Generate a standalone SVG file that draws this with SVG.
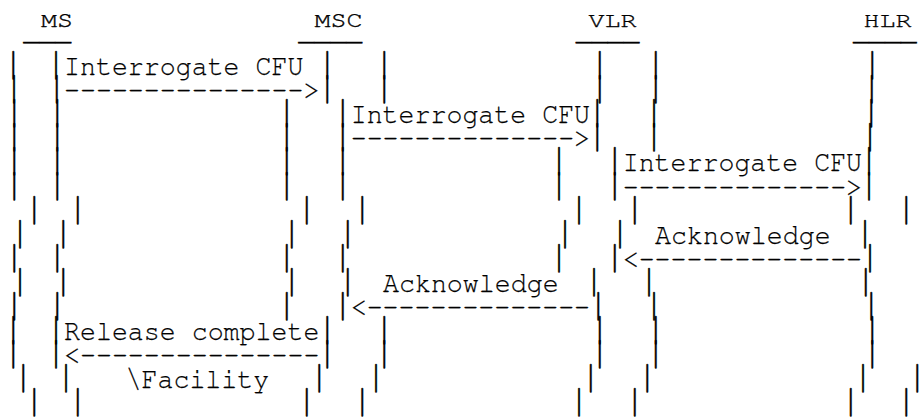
<svg xmlns="http://www.w3.org/2000/svg" width="919" height="419" viewBox="0 0 919 419">
<style>
text{font-family:"Nimbus Mono PS","FreeMono","Liberation Mono","Courier New",monospace;fill:#000;white-space:pre}
.h{font-size:21px;stroke:#000;stroke-width:0.35}
.u{font-size:26.6px;stroke:#000;stroke-width:0.6}
.b{font-size:40px;stroke:#000;stroke-width:0.35}
.t{font-size:29.5px;stroke:#000;stroke-width:0.25}
</style>
<rect width="919" height="419" fill="#fff"/>
<g id="MS">
<text class="h" x="41" y="26.5" textLength="32" lengthAdjust="spacingAndGlyphs">MS</text>
<text class="u" x="23.3" y="39.5" textLength="47.9" lengthAdjust="spacingAndGlyphs">___</text>
<text class="b">
<tspan x="1.3 44" y="75">||</tspan>
<tspan x="2 44.7" y="99.1">||</tspan>
<tspan x="2.3 45.3" y="123.2">||</tspan>
<tspan x="2.3 45.3" y="147.3">||</tspan>
<tspan x="2.3 45.3" y="171.4">||</tspan>
<tspan x="2.3 45.3" y="195.5">||</tspan>
<tspan x="22.3 65.7" y="219.6">||</tspan>
<tspan x="8 51.3" y="243.7">||</tspan>
<tspan x="2.3 45.3" y="267.8">||</tspan>
<tspan x="8 51.3" y="291.9">||</tspan>
<tspan x="2.3 45.3" y="316">||</tspan>
<tspan x="1.3 44" y="340.1">||</tspan>
<tspan x="1.3 44" y="364.2">||</tspan>
<tspan x="11.3 54" y="388.3">||</tspan>
<tspan x="22.3 65.7" y="412.4">||</tspan>
</text>
</g>
<g id="MSC">
<text class="h" x="314.5" y="26.5" textLength="48" lengthAdjust="spacingAndGlyphs">MSC</text>
<text class="u" x="298.3" y="39.5" textLength="63.8" lengthAdjust="spacingAndGlyphs">____</text>
<text class="b">
<tspan x="315.3 372.3" y="75">||</tspan>
<tspan x="315.3 372.3" y="99.1">||</tspan>
<tspan x="274.7 330.7" y="123.2">||</tspan>
<tspan x="274.7 330.7" y="147.3">||</tspan>
<tspan x="274.7 330.7" y="171.4">||</tspan>
<tspan x="274.7 330.7" y="195.5">||</tspan>
<tspan x="294.7 350.3" y="219.6">||</tspan>
<tspan x="279.7 335.7" y="243.7">||</tspan>
<tspan x="274.7 330.7" y="267.8">||</tspan>
<tspan x="279.7 335.7" y="291.9">||</tspan>
<tspan x="274.7 330.7" y="316">||</tspan>
<tspan x="315.3 372.3" y="340.1">||</tspan>
<tspan x="315.3 372.3" y="364.2">||</tspan>
<tspan x="307.3 364" y="388.3">||</tspan>
<tspan x="294.7 350.3" y="412.4">||</tspan>
</text>
</g>
<g id="VLR">
<text class="h" x="588.5" y="26.5" textLength="48" lengthAdjust="spacingAndGlyphs">VLR</text>
<text class="u" x="575.7" y="39.5" textLength="63.8" lengthAdjust="spacingAndGlyphs">____</text>
<text class="b">
<tspan x="587.7 643.7" y="75">||</tspan>
<tspan x="587.7 643.7" y="99.1">||</tspan>
<tspan x="585.3 642" y="123.2">||</tspan>
<tspan x="585.3 642" y="147.3">||</tspan>
<tspan x="547 602.7" y="171.4">||</tspan>
<tspan x="547 602.7" y="195.5">||</tspan>
<tspan x="567 622.7" y="219.6">||</tspan>
<tspan x="553 608" y="243.7">||</tspan>
<tspan x="547 602.7" y="267.8">||</tspan>
<tspan x="582 637" y="291.9">||</tspan>
<tspan x="586.3 642" y="316">||</tspan>
<tspan x="587.7 643.7" y="340.1">||</tspan>
<tspan x="587.7 643.7" y="364.2">||</tspan>
<tspan x="578.7 635.3" y="388.3">||</tspan>
<tspan x="567 622.7" y="412.4">||</tspan>
</text>
</g>
<g id="HLR">
<text class="h" x="863.5" y="26.5" textLength="48" lengthAdjust="spacingAndGlyphs">HLR</text>
<text class="u" x="853" y="39.5" textLength="63.8" lengthAdjust="spacingAndGlyphs">____</text>
<text class="b">
<tspan x="860.3" y="75">|</tspan>
<tspan x="859.7" y="99.1">|</tspan>
<tspan x="859.3" y="123.2">|</tspan>
<tspan x="858" y="147.3">|</tspan>
<tspan x="857" y="171.4">|</tspan>
<tspan x="857" y="195.5">|</tspan>
<tspan x="838.7 894.3" y="219.6">||</tspan>
<tspan x="853" y="243.7">|</tspan>
<tspan x="858" y="267.8">|</tspan>
<tspan x="853.7" y="291.9">|</tspan>
<tspan x="859.3" y="316">|</tspan>
<tspan x="860.3" y="340.1">|</tspan>
<tspan x="860.3" y="364.2">|</tspan>
<tspan x="851 905.3" y="388.3">||</tspan>
<tspan x="838.7 894.3" y="412.4">||</tspan>
</text>
</g>
<g id="connectors">
<text class="t" x="64" y="75" textLength="239.4" lengthAdjust="spacingAndGlyphs">Interrogate CFU</text>
<text class="t" x="64" y="99.1" textLength="255.4" lengthAdjust="spacingAndGlyphs">---------------&gt;</text>
<text class="t" x="350.7" y="123.2" textLength="239.4" lengthAdjust="spacingAndGlyphs">Interrogate CFU</text>
<text class="t" x="350.7" y="147.3" textLength="239.4" lengthAdjust="spacingAndGlyphs">--------------&gt;</text>
<text class="t" x="622.7" y="171.4" textLength="239.4" lengthAdjust="spacingAndGlyphs">Interrogate CFU</text>
<text class="t" x="622.7" y="195.5" textLength="239.4" lengthAdjust="spacingAndGlyphs">--------------&gt;</text>
<text class="t" x="655" y="243.7" textLength="175.6" lengthAdjust="spacingAndGlyphs">Acknowledge</text>
<text class="t" x="622.7" y="267.8" textLength="239.4" lengthAdjust="spacingAndGlyphs">&lt;--------------</text>
<text class="t" x="383" y="291.9" textLength="175.6" lengthAdjust="spacingAndGlyphs">Acknowledge</text>
<text class="t" x="350.7" y="316" textLength="239.4" lengthAdjust="spacingAndGlyphs">&lt;--------------</text>
<text class="t" x="64" y="340.1" textLength="255.4" lengthAdjust="spacingAndGlyphs">Release complete</text>
<text class="t" x="64" y="364.2" textLength="255.4" lengthAdjust="spacingAndGlyphs">&lt;---------------</text>
<text class="t" x="125.6" y="388.3" textLength="143.6" lengthAdjust="spacingAndGlyphs">\Facility</text>
</g>
</svg>
